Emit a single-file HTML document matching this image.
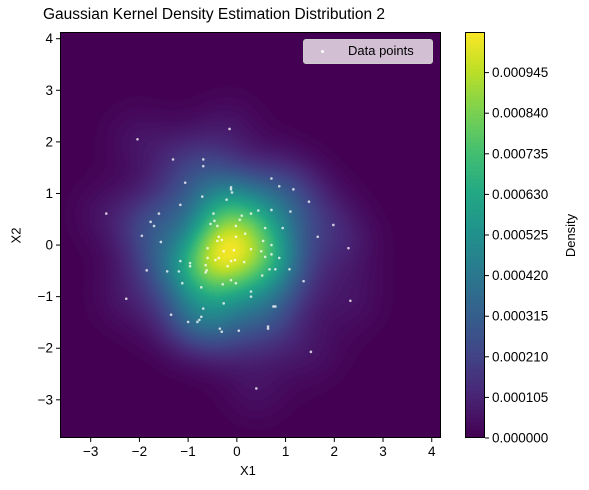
<!DOCTYPE html>
<html><head><meta charset="utf-8"><style>
body{margin:0;background:#fff;width:589px;height:490px;overflow:hidden;font-family:"Liberation Sans","DejaVu Sans",sans-serif}
#wrap{position:relative;width:589px;height:490px}
canvas{position:absolute}
.t{position:absolute;font-size:13px;color:#000;white-space:nowrap}
</style></head><body><div id="wrap">
<canvas id="plot" width="381" height="406" style="left:60px;top:32px"></canvas>
<canvas id="cbar" width="20" height="406" style="left:465px;top:32px"></canvas>
<svg id="ax" width="589" height="490" style="position:absolute;left:0;top:0"></svg>
<div class="t" style="left:43px;top:6px;font-size:15.5px">Gaussian Kernel Density Estimation Distribution 2</div>
<div class="t" style="left:240px;top:463px">X1</div>
<div class="t" style="left:8px;top:228px;transform:rotate(-90deg);transform-origin:center">X2</div>
<div class="t" style="left:549px;top:228px;transform:rotate(-90deg)">Density</div>
<div style="position:absolute;left:303px;top:39px;width:130px;height:25px;background:rgba(235,225,235,0.85);border:1px solid #ccc;border-radius:3px;box-sizing:border-box">
<span style="position:absolute;left:17px;top:10px;width:3px;height:3px;border-radius:50%;background:#fff"></span>
<span class="t" style="left:44px;top:3px">Data points</span></div>
</div>
<script>
const px=[-0.15,-2.04,-1.31,-0.69,-0.69,-1.06,-0.12,-0.12,-0.10,-0.71,-0.21,-1.16,-2.68,-1.60,-1.77,-1.70,-1.95,-1.56,-0.48,-0.46,-0.54,-0.40,0.10,0.06,0.29,0.44,-0.02,0.17,-0.37,-0.31,-0.40,-0.02,-0.60,-0.06,0.29,0.71,0.87,1.16,1.48,1.98,1.66,2.29,0.71,1.10,0.58,0.94,0.54,0.71,0.50,-0.27,0.71,0.87,0.58,0.15,-0.04,-0.12,-0.19,-0.37,-0.44,-0.60,-0.64,-0.62,-0.64,-0.96,-0.96,-1.16,-1.19,-1.43,-1.85,-2.27,-1.12,-0.73,-0.29,-0.12,-0.02,0.52,0.67,0.79,0.29,0.29,-0.27,-0.69,-1.35,-0.73,-0.77,-0.81,-1.00,-0.35,-0.31,0.04,0.64,0.64,0.75,0.79,0.40,1.08,1.37,2.33,1.52];
const py=[2.25,2.05,1.66,1.66,1.53,1.21,1.12,1.08,1.02,0.94,0.88,0.78,0.61,0.61,0.45,0.37,0.18,0.06,0.61,0.47,0.41,0.37,0.57,0.49,0.61,0.67,0.37,0.22,0.16,0.10,0.08,0.16,-0.06,-0.10,-0.08,1.29,1.14,1.08,0.84,0.39,0.16,-0.06,0.68,0.65,0.33,0.33,0.08,0.00,-0.12,-0.12,-0.18,-0.25,-0.23,-0.33,-0.29,-0.31,-0.41,-0.25,-0.29,-0.25,-0.39,-0.49,-0.53,-0.35,-0.41,-0.31,-0.51,-0.51,-0.49,-1.04,-0.74,-0.82,-0.76,-0.68,-0.74,-0.59,-0.47,-0.47,-0.90,-1.00,-1.13,-1.23,-1.35,-1.39,-1.45,-1.49,-1.49,-1.62,-1.68,-1.66,-1.58,-1.62,-1.19,-1.19,-2.78,-0.47,-0.70,-1.08,-2.07];
const cbTicks=[0,0.000105,0.000210,0.000315,0.000420,0.000525,0.000630,0.000735,0.000840,0.000945];
const xTicks=[-3,-2,-1,0,1,2,3,4];
const yTicks=[-3,-2,-1,0,1,2,3,4];
const X0=-3.63,X1=4.19,Y0=-3.74,Y1=4.13,L=60,T=32,W=381,H=406,VMAX=0.00105;
const sx=v=>L+(v-X0)/(X1-X0)*W, sy=v=>T+(Y1-v)/(Y1-Y0)*H;
const stops=[[68,1,84],[72,36,117],[65,68,135],[53,95,141],[42,120,142],[33,145,140],[34,168,132],[68,191,112],[122,209,81],[189,223,38],[253,231,37]];
function vir(t){t=Math.max(0,Math.min(1,t));const f=t*(stops.length-1),i=Math.min(stops.length-2,Math.floor(f)),u=f-i;return stops[i].map((c,k)=>Math.round(c+(stops[i+1][k]-c)*u));}
const n=px.length;let mx=0,my=0;for(let i=0;i<n;i++){mx+=px[i];my+=py[i];}mx/=n;my/=n;
let vx=0,vy=0;for(let i=0;i<n;i++){vx+=(px[i]-mx)**2;vy+=(py[i]-my)**2;}
const f=Math.pow(n,-1/6)*1.1,hx=Math.sqrt(vx/(n-1))*f,hy=Math.sqrt(vy/(n-1))*f;
const ctx=document.getElementById('plot').getContext('2d');const img=ctx.createImageData(W,H);
const dens=new Float32Array(W*H);let dmax=0;
for(let j=0;j<H;j++){const y=Y1-(j+0.5)/H*(Y1-Y0);for(let i=0;i<W;i++){const x=X0+(i+0.5)/W*(X1-X0);let s=0;for(let k=0;k<n;k++){const a=(x-px[k])/hx,b=(y-py[k])/hy;s+=Math.exp(-0.5*(a*a+b*b));}dens[j*W+i]=s;if(s>dmax)dmax=s;}}
for(let p=0;p<W*H;p++){let t=dens[p]/dmax*0.99;t=Math.floor(t*100)/100;const c=vir(t);img.data[p*4]=c[0];img.data[p*4+1]=c[1];img.data[p*4+2]=c[2];img.data[p*4+3]=255;}
ctx.putImageData(img,0,0);
const cb=document.getElementById('cbar').getContext('2d');
for(let j=0;j<H;j++){const c=vir(Math.floor((1-j/H)*100)/100);cb.fillStyle=`rgb(${c})`;cb.fillRect(0,j,20,1);}
const NS='http://www.w3.org/2000/svg',svg=document.getElementById('ax');
function el(tag,at,txt){const e=document.createElementNS(NS,tag);for(const k in at)e.setAttribute(k,at[k]);if(txt!==undefined)e.textContent=txt;svg.appendChild(e);return e;}
for(let i=0;i<n;i++){const c=el('circle',{cx:sx(px[i]),cy:sy(py[i]),r:1.3,fill:'rgba(255,255,255,0.75)'});

}
const fr=el('rect',{x:L+0.5,y:T+0.5,width:W-1,height:H-1,fill:'none',stroke:'#000','stroke-width':1});


const cf=el('rect',{x:465.5,y:T+0.5,width:19,height:H-1,fill:'none',stroke:'#000','stroke-width':1});


xTicks.forEach(v=>{const x=sx(v);el('line',{x1:x,x2:x,y1:T+H,y2:T+H+4,stroke:'#000'});const t=el('text',{x:x,y:T+H+18,'text-anchor':'middle','font-size':13.5,'font-family':'Liberation Sans, sans-serif'},String(v).replace('-','−'));

});
yTicks.forEach(v=>{const y=sy(v);el('line',{x1:L-4,x2:L,y1:y,y2:y,stroke:'#000'});const t=el('text',{x:L-7,y:y+4.5,'text-anchor':'end','font-size':13.5,'font-family':'Liberation Sans, sans-serif'},String(v).replace('-','−'));

});
cbTicks.forEach(v=>{const y=T+H-v/VMAX*H;el('line',{x1:485,x2:489,y1:y,y2:y,stroke:'#000'});const t=el('text',{x:492,y:y+4.5,'font-size':13.5,'font-family':'Liberation Sans, sans-serif'},v.toFixed(6));

});
</script></body></html>
